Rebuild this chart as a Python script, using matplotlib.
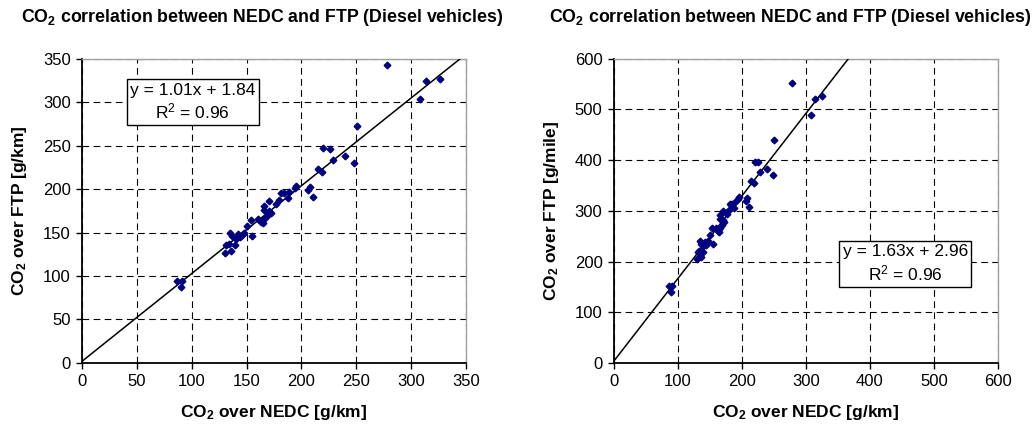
import matplotlib
matplotlib.use('Agg')
import matplotlib.pyplot as plt

plt.rcParams['font.family'] = ['Liberation Sans', 'DejaVu Sans']
plt.rcParams['mathtext.fontset'] = 'custom'
plt.rcParams['mathtext.rm'] = 'Liberation Sans'
plt.rcParams['mathtext.it'] = 'Liberation Sans:italic'
plt.rcParams['mathtext.bf'] = 'Liberation Sans:bold'

# CO2 over NEDC [g/km], one entry per vehicle
nedc = [87, 91, 90, 130, 131, 134, 136, 135, 137, 139, 140, 142, 144, 146, 148,
        150, 154, 155, 160, 163, 165, 166, 166, 166, 169, 170, 170, 172, 177, 180,
        181, 184, 188, 189, 194, 195, 206, 208, 211, 215, 219, 220, 226, 229, 240,
        248, 251, 278, 308, 314, 326]
# CO2 over FTP [g/km]
ftp_km = [94, 94, 87, 127, 136, 137, 129, 150, 146, 136, 143, 148, 145, 147, 150,
          157, 165, 146, 166, 162, 161, 166, 176, 181, 169, 175, 186, 172, 183, 187,
          195, 195, 190, 197, 201, 204, 199, 202, 191, 223, 220, 247, 246, 234, 238,
          230, 273, 343, 304, 324, 327]
# CO2 over FTP [g/mile]
ftp_mile = [151, 151, 140, 204, 219, 220, 208, 241, 235, 219, 230, 238, 233, 237, 241,
            253, 266, 235, 267, 261, 259, 267, 283, 291, 272, 282, 299, 277, 294, 301,
            314, 314, 306, 317, 323, 328, 320, 325, 307, 359, 354, 397, 396, 377, 383,
            370, 439, 552, 489, 521, 526]

# trend lines as printed on the chart
fit_km = (1.01, 1.84)
fit_mile = (1.63, 2.96)

title = 'CO$_\\mathbf{2}$ correlation between NEDC and FTP (Diesel vehicles)'


def style_axes(ax, lim, step):
    ax.set_xlim(0, lim)
    ax.set_ylim(0, lim)
    ax.set_xticks(range(0, lim + 1, step))
    ax.set_yticks(range(0, lim + 1, step))
    ax.grid(True, color='black', linestyle=(0, (6, 4)), linewidth=0.8)
    ax.set_axisbelow(True)
    for side in ['top', 'right']:
        ax.spines[side].set_color('#a0a0a0')
        ax.spines[side].set_linewidth(1.0)
    for side in ['left', 'bottom']:
        ax.spines[side].set_color('black')
        ax.spines[side].set_linewidth(1.3)
    ax.tick_params(direction='out', length=4, width=1.0, labelsize=12, pad=4)


def panel(ax, x, y, fit, lim, step, ylabel, box_xy):
    style_axes(ax, lim, step)
    xs = [0, lim * 1.2]
    ax.plot(xs, [fit[0] * v + fit[1] for v in xs], color='black', lw=1.1, zorder=3)
    ax.plot(x, y, linestyle='none', marker='D', markersize=3.4,
            color='#000080', zorder=4)
    ax.set_xlabel('CO$_\\mathbf{2}$ over NEDC [g/km]', fontsize=12.5,
                  fontweight='bold', labelpad=10)
    ax.set_ylabel(ylabel, fontsize=12.5, fontweight='bold', labelpad=10)
    ax.text(box_xy[0], box_xy[1],
            'y = %.2fx + %.2f\nR$^2$ = 0.96' % fit,
            ha='center', va='center', multialignment='center', fontsize=12.5,
            zorder=5, linespacing=1.25,
            bbox=dict(facecolor='white', edgecolor='black', linewidth=1.0,
                      boxstyle='square,pad=0.2'))


fig = plt.figure(figsize=(10.32, 4.32), dpi=100)
ax1 = fig.add_axes([0.0795, 0.160, 0.372, 0.704])
ax2 = fig.add_axes([0.5946, 0.160, 0.3725, 0.704])

panel(ax1, nedc, ftp_km, fit_km, 350, 50,
      'CO$_\\mathbf{2}$ over FTP [g/km]', (101, 300))
panel(ax2, nedc, ftp_mile, fit_mile, 600, 100,
      'CO$_\\mathbf{2}$ over FTP [g/mile]', (455, 195))

fig.text(262 / 1032, 1 - 17 / 432, title, ha='center', va='center',
         fontsize=12.8, fontweight='bold')
fig.text(790 / 1032, 1 - 17 / 432, title, ha='center', va='center',
         fontsize=12.8, fontweight='bold')

fig.savefig('out.png', dpi=100)
